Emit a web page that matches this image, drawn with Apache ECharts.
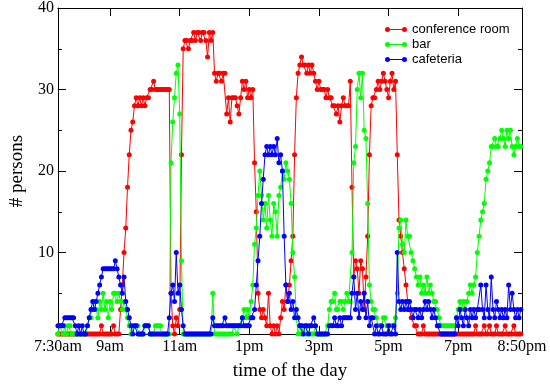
<!DOCTYPE html>
<html>
<head>
<meta charset="utf-8">
<script src="https://cdn.jsdelivr.net/npm/echarts@6/dist/echarts.min.js"></script>
<style>html,body{margin:0;padding:0;background:#fff}#c{width:550px;height:386px}</style>
</head>
<body>
<div id="c"></div>
<script>
// sampling: one value every 3 minutes, starting at 7:30am (minute 0)
const sampleStepMinutes = 3;
const tickMinutes = [0, 90, 210, 330, 450, 570, 690, 800];
const tickLabels = ['7:30am', '9am', '11am', '1pm', '3pm', '5pm', '7pm', '8:50pm'];
const seriesNames = ['conference room', 'bar', 'cafeteria'];

const conferenceRoom = [
0,0,0,0,0,0,0,0,0,0,
0,0,0,0,0,0,0,0,0,0,
0,0,0,0,0,1,0,0,0,0,
0,0,1,0,0,0,3,6,10,13,
18,22,25,26,28,29,28,29,28,29,
28,29,29,30,30,31,30,30,30,30,
30,30,30,30,30,5,1,0,2,1,
3,22,35,36,36,35,36,36,37,36,
37,37,36,37,37,36,34,37,36,37,
32,31,32,32,31,32,32,27,29,26,
29,29,29,28,27,29,31,30,31,29,
30,29,30,21,15,5,3,2,3,2,
1,5,1,0,1,0,1,0,2,4,
3,6,4,6,9,12,22,29,32,33,
34,33,33,32,33,32,33,32,31,30,
31,30,30,30,29,30,29,29,28,28,
27,28,26,28,29,28,28,28,31,18,
7,9,8,5,9,8,3,7,12,22,
28,29,29,30,31,30,31,32,31,30,
29,31,32,30,31,22,14,12,10,8,
6,4,3,2,2,1,1,0,0,0,
1,0,0,0,0,0,0,0,0,0,
0,0,0,0,0,0,0,0,0,0,
0,0,0,0,0,0,0,0,0,0,
1,0,0,0,0,1,0,0,1,0,
0,0,1,0,0,0,0,1,0,0,
0,0,1,0,0,0,0
];

const bar = [
0,1,1,0,1,0,1,1,0,0,
0,0,0,0,0,0,0,1,2,2,
3,4,3,2,4,3,5,3,4,2,
4,3,5,5,4,5,4,3,4,3,
2,1,0,1,1,1,1,0,0,0,
1,1,1,0,0,0,1,1,1,1,
0,0,0,0,0,21,26,29,32,33,
27,9,0,0,0,0,0,0,0,0,
0,0,0,0,0,0,0,0,0,5,
0,0,0,0,0,0,0,0,0,0,
0,1,1,0,1,1,2,3,2,3,
2,4,6,11,13,17,20,17,14,16,
13,17,14,12,16,15,12,17,18,20,
19,21,20,19,16,10,7,2,0,1,
0,1,0,0,1,0,0,0,1,0,
0,0,0,0,0,1,3,4,4,5,
3,3,4,4,3,4,5,4,4,10,
21,23,30,32,29,32,25,24,16,6,
4,3,3,2,1,1,1,2,2,1,
1,1,1,1,2,5,13,14,11,10,
14,12,12,10,9,8,7,6,7,5,
6,5,7,5,6,5,4,4,3,2,
1,1,1,1,1,1,1,1,1,2,
3,4,3,4,3,4,5,6,5,6,
7,10,12,14,15,16,19,20,21,23,
23,24,23,23,24,25,24,23,25,24,
25,23,22,23,24,23,23
];

const cafeteria = [
1,1,1,1,2,2,2,2,2,2,
1,0,1,0,1,0,0,1,2,3,
4,3,4,5,6,7,8,8,8,8,
8,8,8,9,8,7,6,5,7,4,
3,2,1,0,1,1,0,0,0,0,
1,1,1,0,0,0,0,0,0,0,
0,0,0,0,2,5,6,4,10,5,
6,3,1,0,0,0,0,0,0,0,
0,0,0,0,0,0,0,0,0,2,
1,1,1,1,1,1,2,1,1,1,
1,1,1,1,1,1,2,1,1,1,
1,2,2,3,6,9,12,16,19,22,
23,22,23,22,23,22,24,21,22,20,
12,6,4,5,3,4,2,3,2,1,
1,0,1,1,0,1,1,2,1,0,
0,0,0,0,0,0,1,1,1,2,
1,1,2,1,2,2,2,2,2,5,
7,3,5,2,4,3,5,2,4,1,
2,2,0,1,0,0,1,0,0,0,
1,0,0,1,0,10,4,3,4,3,
4,3,4,3,2,3,3,2,3,2,
3,4,3,4,3,2,3,2,1,1,
0,0,0,0,0,0,0,0,0,2,
1,3,2,1,3,2,1,3,2,3,
2,3,3,6,3,2,6,3,2,7,
3,2,4,3,2,3,2,3,2,6,
3,5,3,2,3,2,3
];

const colors = ['#ff0000', '#00ff00', '#0000ff'];
const serif = '"Liberation Serif", "DejaVu Serif", serif';
const sans = '"Liberation Sans", Arial, sans-serif';

function toPairs(vals) {
  return vals.map((v, i) => [i * sampleStepMinutes, v]);
}

const legendIcon = 'path://M0,2.5A2.5,2.5 0 1,1 5,2.5A2.5,2.5 0 1,1 0,2.5ZM17,2.5A2.5,2.5 0 1,1 22,2.5A2.5,2.5 0 1,1 17,2.5ZM4,2L18,2L18,3L4,3Z';

const chart = echarts.init(document.getElementById('c'), null, {renderer: 'canvas'});
const allSeries = [conferenceRoom, bar, cafeteria].map((vals, k) => ({
  name: seriesNames[k],
  type: 'line',
  xAxisIndex: 0,
  yAxisIndex: 0,
  data: toPairs(vals),
  showSymbol: true,
  showAllSymbol: true,
  symbol: 'circle',
  symbolSize: 5,
  itemStyle: {color: colors[k]},
  lineStyle: {color: colors[k], width: 1},
  emphasis: {disabled: true},
  z: 2 + k
}));

const innerTicks = tickMinutes.slice(1, -1);
const tickStyle = {color: '#000', width: 1};

chart.setOption({
  animation: false,
  backgroundColor: '#fff',
  grid: {left: 46, right: 28, top: 7, bottom: 46, containLabel: false},
  legend: {
    data: seriesNames.map(n => ({name: n, icon: legendIcon})),
    orient: 'vertical',
    left: 380,
    top: 18,
    itemWidth: 22,
    itemHeight: 5,
    itemGap: 2,
    textStyle: {fontFamily: sans, fontSize: 13, color: '#000'},
    selectedMode: false
  },
  xAxis: [{
    type: 'value',
    min: 0,
    max: 800,
    position: 'bottom',
    name: 'time of the day',
    nameLocation: 'middle',
    nameGap: 28,
    nameTextStyle: {fontFamily: serif, fontSize: 19, color: '#000'},
    axisLine: {show: true, onZero: false, lineStyle: {color: '#000', width: 1}},
    axisTick: {show: true, inside: true, length: 8, customValues: innerTicks, lineStyle: tickStyle},
    axisLabel: {
      customValues: tickMinutes,
      margin: 5,
      fontFamily: serif, fontSize: 16, color: '#000',
      formatter: v => tickLabels[tickMinutes.indexOf(v)] || ''
    },
    splitLine: {show: false}
  }, {
    type: 'value',
    min: 0,
    max: 800,
    position: 'top',
    axisLine: {show: true, onZero: false, lineStyle: {color: '#000', width: 1}},
    axisTick: {show: true, inside: true, length: 8, customValues: innerTicks, lineStyle: tickStyle},
    axisLabel: {show: false},
    splitLine: {show: false}
  }],
  yAxis: [{
    type: 'value',
    min: 0,
    max: 40,
    interval: 10,
    position: 'left',
    name: '# persons',
    nameLocation: 'middle',
    nameGap: 27,
    nameTextStyle: {fontFamily: serif, fontSize: 19, color: '#000'},
    axisLine: {show: true, onZero: false, lineStyle: {color: '#000', width: 1}},
    axisTick: {show: true, inside: true, length: 8, lineStyle: tickStyle},
    minorTick: {show: true, splitNumber: 2, length: 4, lineStyle: tickStyle},
    axisLabel: {margin: 4, fontFamily: serif, fontSize: 16, color: '#000', formatter: v => v === 0 ? '' : String(v)},
    splitLine: {show: false},
    minorSplitLine: {show: false}
  }, {
    type: 'value',
    min: 0,
    max: 40,
    interval: 10,
    position: 'right',
    axisLine: {show: true, onZero: false, lineStyle: {color: '#000', width: 1}},
    axisTick: {show: true, inside: true, length: 8, lineStyle: tickStyle},
    minorTick: {show: true, splitNumber: 2, length: 4, lineStyle: tickStyle},
    axisLabel: {show: false},
    splitLine: {show: false}
  }],
  series: allSeries
});
</script>
</body>
</html>
